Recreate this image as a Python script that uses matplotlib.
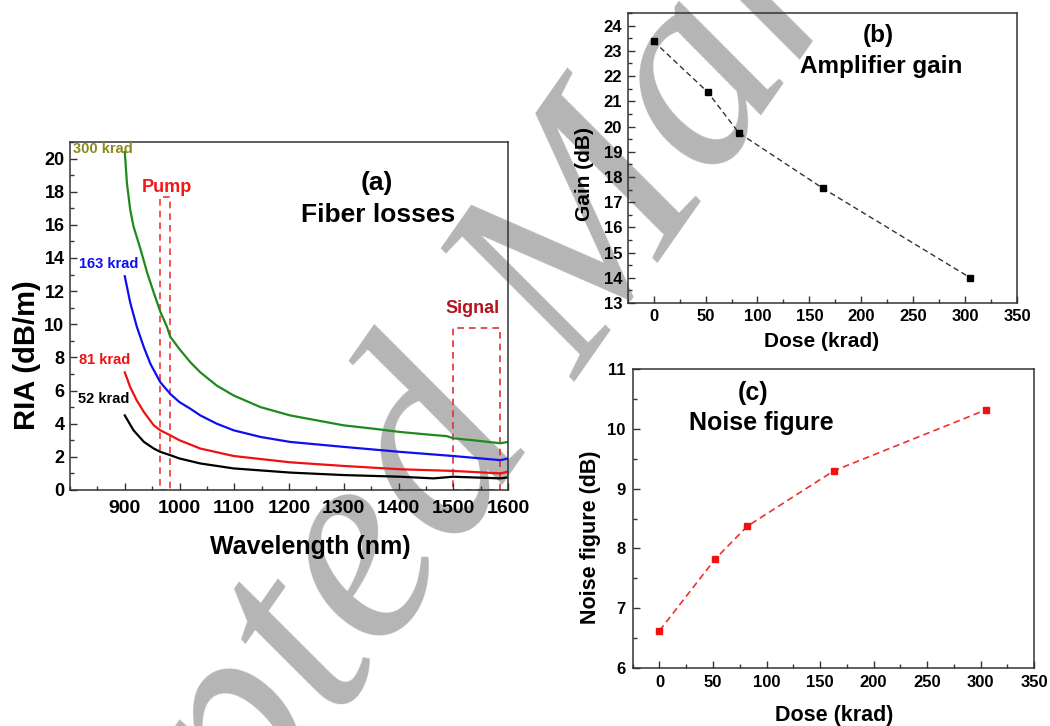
import matplotlib
matplotlib.use("Agg")
import matplotlib.pyplot as plt
from matplotlib.ticker import MultipleLocator
from matplotlib.patches import Rectangle

plt.rcParams["font.family"] = ["Liberation Sans", "DejaVu Sans"]
plt.rcParams["font.weight"] = "bold"
plt.rcParams["axes.labelweight"] = "bold"

# ---- (a) fiber losses: RIA (dB/m) vs wavelength (nm)
wl_300 = [900, 904, 910, 916, 929, 941, 953, 965, 977, 983, 1000, 1020, 1038, 1068,
          1099, 1148, 1202, 1251, 1300, 1354, 1403, 1452, 1488, 1500, 1537, 1586, 1600]
ria_300 = [20.4, 18.5, 16.9, 15.9, 14.5, 13.1, 11.9, 10.75, 9.85, 9.25, 8.5, 7.7, 7.1, 6.3,
           5.7, 5.0, 4.5, 4.2, 3.9, 3.7, 3.5, 3.35, 3.25, 3.12, 3.0, 2.82, 2.9]

wl_163 = [900, 910, 922, 935, 947, 965, 983, 1000, 1020, 1038, 1068, 1099, 1148, 1202,
          1300, 1403, 1500, 1586, 1600]
ria_163 = [12.9, 11.3, 9.85, 8.6, 7.6, 6.5, 5.8, 5.3, 4.9, 4.5, 4.0, 3.6, 3.2, 2.9,
           2.6, 2.3, 2.05, 1.8, 1.9]

wl_81 = [900, 910, 922, 935, 953, 965, 983, 1000, 1038, 1099, 1202, 1300, 1403, 1500,
         1586, 1600]
ria_81 = [7.1, 6.2, 5.4, 4.7, 3.9, 3.6, 3.3, 3.0, 2.5, 2.05, 1.67, 1.45, 1.25, 1.15,
          1.0, 1.1]

wl_52 = [900, 916, 935, 953, 965, 983, 1000, 1038, 1099, 1202, 1300, 1403, 1464, 1500,
         1586, 1600]
ria_52 = [4.5, 3.6, 2.9, 2.5, 2.3, 2.1, 1.9, 1.6, 1.3, 1.05, 0.9, 0.8, 0.7, 0.8,
          0.7, 0.76]

curve_labels = ["300 krad", "163 krad", "81 krad", "52 krad"]

# ---- (b) amplifier gain and (c) noise figure vs dose
dose = [0, 52, 82, 163, 305]
gain = [23.38, 21.37, 19.75, 17.55, 14.0]
noise_fig = [6.62, 7.82, 8.37, 9.30, 10.32]


def style_axes(ax):
    ax.set_facecolor("none")
    for sp in ax.spines.values():
        sp.set_color("#333333")
        sp.set_linewidth(1.1)
    ax.tick_params(which="both", direction="in", top=False, right=False,
                   color="#333333")
    ax.tick_params(which="major", length=5, width=1)
    ax.tick_params(which="minor", length=3, width=1)


fig = plt.figure(figsize=(10.5, 7.26), dpi=100)

# watermark behind the panels
fig.text(0.557, 0.628, "Accepted Manuscript", rotation=55, fontsize=205,
         family="Liberation Serif", style="italic", weight="normal",
         color="#b5b5b5", ha="center", va="center", zorder=-1)

# ------------------------------------------------------------------
# (a) Fiber losses
# ------------------------------------------------------------------
ax_a = fig.add_axes([0.0667, 0.3251, 0.4171, 0.4793])
style_axes(ax_a)
ax_a.plot(wl_300, ria_300, color="#1e8a1e", lw=1.6)
ax_a.plot(wl_163, ria_163, color="#1010ee", lw=1.6)
ax_a.plot(wl_81, ria_81, color="#ee1111", lw=1.6)
ax_a.plot(wl_52, ria_52, color="black", lw=1.6)

ax_a.add_patch(Rectangle((965, 0), 18, 17.7, fill=False, ls=(0, (4, 3)),
                         ec="#f03a3a", lw=1.2))
ax_a.add_patch(Rectangle((1500, 0), 85, 9.75, fill=False, ls=(0, (4, 3)),
                         ec="#e0303a", lw=1.2))
ax_a.text(977, 18.27, "Pump", color="#f01818", fontsize=13, ha="center", va="center")
ax_a.text(1535, 10.94, "Signal", color="#b5141e", fontsize=13, ha="center", va="center")

label_pos = [(805, 20.58), (816, 13.65), (816, 7.83), (814, 5.52)]
label_cols = ["#8a8a1e", "#1010ee", "#ee1111", "black"]
for txt, (x, y), c in zip(curve_labels, label_pos, label_cols):
    ax_a.text(x, y, txt, color=c, fontsize=10.5, ha="left", va="center")

ax_a.text(1361, 18.5, "(a)", fontsize=19, ha="center", va="center")
ax_a.text(1362, 16.57, "Fiber losses", fontsize=19, ha="center", va="center")

ax_a.set_xlim(800, 1600)
ax_a.set_ylim(0, 21)
ax_a.set_xticks(range(900, 1601, 100))
ax_a.xaxis.set_minor_locator(MultipleLocator(50))
ax_a.set_yticks(range(0, 21, 2))
ax_a.yaxis.set_minor_locator(MultipleLocator(1))
ax_a.tick_params(axis="x", labelsize=14, pad=7)
ax_a.tick_params(axis="y", labelsize=13, pad=4)
ax_a.set_xlabel("Wavelength (nm)", fontsize=18, va="center")
ax_a.xaxis.set_label_coords(0.548, -0.164)
ax_a.set_ylabel("RIA (dB/m)", fontsize=21, va="center")
ax_a.yaxis.set_label_coords(-0.098, 0.388)

# ------------------------------------------------------------------
# (b) Amplifier gain
# ------------------------------------------------------------------
ax_b = fig.add_axes([0.5978, 0.5826, 0.3708, 0.3994])
style_axes(ax_b)
ax_b.plot(dose, gain, ls=(0, (4, 2.5)), color="#333333", lw=1.0,
          marker="s", ms=5, mfc="black", mec="black")
ax_b.text(216, 23.6, "(b)", fontsize=17.5, ha="center", va="center")
ax_b.text(219, 22.37, "Amplifier gain", fontsize=17.5, ha="center", va="center")
ax_b.set_xlim(-25, 350)
ax_b.set_ylim(13, 24.5)
ax_b.set_xticks(range(0, 351, 50))
ax_b.xaxis.set_minor_locator(MultipleLocator(25))
ax_b.set_yticks(range(13, 25))
ax_b.yaxis.set_minor_locator(MultipleLocator(0.5))
ax_b.tick_params(labelsize=12, pad=4)
ax_b.set_xlabel("Dose (krad)", fontsize=15, va="center")
ax_b.xaxis.set_label_coords(0.499, -0.134)
ax_b.set_ylabel("Gain (dB)", fontsize=15, va="center")
ax_b.yaxis.set_label_coords(-0.112, 0.445)

# ------------------------------------------------------------------
# (c) Noise figure
# ------------------------------------------------------------------
ax_c = fig.add_axes([0.6026, 0.0803, 0.3822, 0.4110])
style_axes(ax_c)
ax_c.plot(dose, noise_fig, ls=(0, (4, 2.5)), color="#f03030", lw=1.2,
          marker="s", ms=5, mfc="#ee1111", mec="#ee1111")
ax_c.text(87.5, 10.6, "(c)", fontsize=18, ha="center", va="center")
ax_c.text(95, 10.1, "Noise figure", fontsize=18, ha="center", va="center")
ax_c.set_xlim(-25, 350)
ax_c.set_ylim(6, 11)
ax_c.set_xticks(range(0, 351, 50))
ax_c.xaxis.set_minor_locator(MultipleLocator(25))
ax_c.set_yticks(range(6, 12))
ax_c.yaxis.set_minor_locator(MultipleLocator(0.5))
ax_c.tick_params(labelsize=12, pad=5)
ax_c.set_xlabel("Dose (krad)", fontsize=15.5, va="center")
ax_c.xaxis.set_label_coords(0.502, -0.159)
ax_c.set_ylabel("Noise figure (dB)", fontsize=15.5, va="center")
ax_c.yaxis.set_label_coords(-0.106, 0.438)

fig.savefig("out.png", dpi=100)
